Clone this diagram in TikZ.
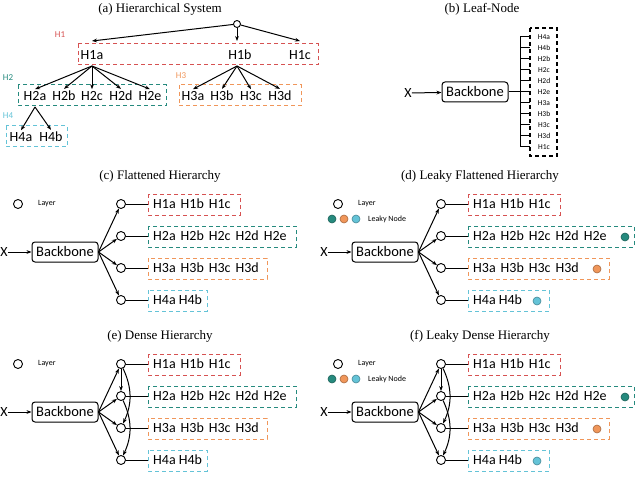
\documentclass[tikz,border=0pt]{standalone}
\usepackage{fontspec}
\setmainfont{Liberation Serif}
\newfontfamily\lbl{Carlito}
\usetikzlibrary{arrows.meta,positioning}
\definecolor{hred}{RGB}{214,82,82}
\definecolor{hteal}{RGB}{38,138,126}
\definecolor{horange}{RGB}{240,150,90}
\definecolor{hcyan}{RGB}{100,195,215}
\tikzset{
  title/.style={font=\fontsize{13}{13}\selectfont},
  leaf/.style={font=\lbl\fontsize{14}{14}\selectfont, inner sep=0pt},
  tiny/.style={font=\lbl\fontsize{8}{8}\selectfont, inner sep=0pt, anchor=west},
  small/.style={font=\lbl\fontsize{9}{9}\selectfont, inner sep=0pt},
  grp/.style={draw=#1, dashed, line width=1pt, dash pattern=on 4pt off 3pt},
  lay/.style={circle, draw, line width=0.9pt, minimum size=9pt, inner sep=0pt},
  leaky/.style={circle, draw=#1!70!black, fill=#1, line width=0.6pt, minimum size=8pt, inner sep=0pt},
  bb/.style={draw, rounded corners=3pt, line width=1pt, font=\lbl\fontsize{14.5}{14.5}\selectfont, minimum width=66pt, minimum height=20pt, inner sep=2pt},
  arr/.style={-{Stealth[length=5pt]}, line width=1pt},
  ln/.style={line width=1pt}
}
\newcommand{\gap}{\hspace{5pt}}
\begin{document}
\begin{tikzpicture}[x=1pt,y=-1pt]
  \useasboundingbox (0,0) rectangle (640,500);

  % (a) Hierarchical System
  \node[title] at (160,9) {(a) Hierarchical System};
  \node[lay, minimum size=7pt] (root) at (237,24) {};
  \draw[grp=hred] (78,44) rectangle (318,65);
  \draw[grp=hteal] (18,85) rectangle (166,106);
  \draw[grp=horange] (179,85) rectangle (301,106);
  \draw[grp=hcyan] (6,126) rectangle (67,147);
  \node[small, text=hred] at (60,35) {H1};
  \node[small, text=hteal] at (8,78) {H2};
  \node[small, text=horange] at (181,76) {H3};
  \node[small, text=hcyan] at (8,116) {H4};
  \foreach \n/\x in {H1a/92,H1b/240,H1c/300} \node[leaf] (\n) at (\x,55) {\n};
  \foreach \n/\x in {H2a/35,H2b/64,H2c/92,H2d/121,H2e/150} \node[leaf] (\n) at (\x,96) {\n};
  \foreach \n/\x in {H3a/193,H3b/222,H3c/251,H3d/280} \node[leaf] (\n) at (\x,96) {\n};
  \foreach \n/\x in {H4a/21,H4b/51} \node[leaf] (\n) at (\x,137) {\n};
  \coordinate (t1) at (92,41); \coordinate (t2) at (237,41); \coordinate (t3) at (300,41);
  \foreach \t in {t1,t2,t3} \draw[arr] (root) -- (\t);
  \foreach \n in {H2a,H2b,H2c,H2d,H2e} \draw[arr] (92,66) -- ([yshift=2pt]\n.north);
  \foreach \n in {H3a,H3b,H3c,H3d} \draw[arr] (237,66) -- ([yshift=2pt]\n.north);
  \foreach \n in {H4a,H4b} \draw[arr] (35,107) -- ([yshift=2pt]\n.north);

  % (b) Leaf-Node
  \node[title] at (482,9) {(b) Leaf-Node};
  \node[leaf] (bX) at (408,93) {X};
  \node[bb] (bB) at (475,92) {Backbone};
  \draw[arr] (bX) -- (bB);
  \draw[grp=black, line width=1.2pt] (530,28) rectangle (557,156);
  \coordinate (bus) at (520,92);
  \draw[ln] (bB) -- (bus);
  \draw[ln] (520,37) -- (520,147);
  \foreach \n [count=\i from 0] in {H4a,H4b,H2b,H2c,H2d,H2e,H3a,H3b,H3c,H3d,H1c} {
    \node[small, font=\lbl\fontsize{7.5}{7.5}\selectfont] (L\n) at (544,37+11*\i) {\n};
    \draw[ln] (520,37+11*\i) -- (530,37+11*\i);
  }

  % (c)-(f)
  \foreach \px/\py/\ttl/\lk/\dn in {0/0/(c) Flattened Hierarchy/0/0,
                                320/0/(d) Leaky Flattened Hierarchy/1/0,
                                0/160/(e) Dense Hierarchy/0/1,
                                320/160/(f) Leaky Dense Hierarchy/1/1} {
    \begin{scope}[shift={(\px,\py)}]
      \node[title] at (160,176) {\ttl};
      \node[lay] (lg) at (18,204) {};
      \node[tiny] at (38,204) {Layer};
      \node[leaf] (X) at (4,252) {X};
      \node[bb] (B) at (65,252) {Backbone};
      \draw[arr] (X) -- (B);
      \foreach \i/\y in {1/204,2/236,3/268,4/300} {
        \node[lay] (c\i) at (121,\y) {};
        \draw[arr] (B.east) -- (c\i);
        \draw[ln] (c\i) -- (148,\y);
      }
      \draw[grp=hred] (148,194) rectangle (240,215);
      \draw[grp=hteal] (148,226) rectangle ({296+18*\lk},247);
      \draw[grp=horange] (148,258) rectangle ({267+22*\lk},279);
      \draw[grp=hcyan] (148,290) rectangle ({207+22*\lk},311);
      \node[leaf, anchor=west] at (153,204) {H1a\gap H1b\gap H1c};
      \node[leaf, anchor=west] at (153,236) {H2a\gap H2b\gap H2c\gap H2d\gap H2e};
      \node[leaf, anchor=west] at (153,268) {H3a\gap H3b\gap H3c\gap H3d};
      \node[leaf, anchor=west] at (153,300) {H4a H4b};
      \ifnum\lk=1
        \node[leaky=hteal] (k1) at (12,219) {};
        \node[leaky=horange] (k2) at (24,219) {};
        \node[leaky=hcyan] (k3) at (36,219) {};
        \node[tiny] at (48,219) {Leaky Node};
        \node[leaky=hteal] (r2) at (305,237) {};
        \node[leaky=horange] (r3) at (277,269) {};
        \node[leaky=hcyan] (r4) at (217,301) {};
      \fi
      \ifnum\dn=1
        \draw[arr] (c1) -- (c2);
        \draw[arr] (c1) to[out=-65,in=65] (c3);
        \draw[arr] (c2) to[out=-65,in=65] (c4);
      \fi
    \end{scope}
  }
\end{tikzpicture}
\end{document}
